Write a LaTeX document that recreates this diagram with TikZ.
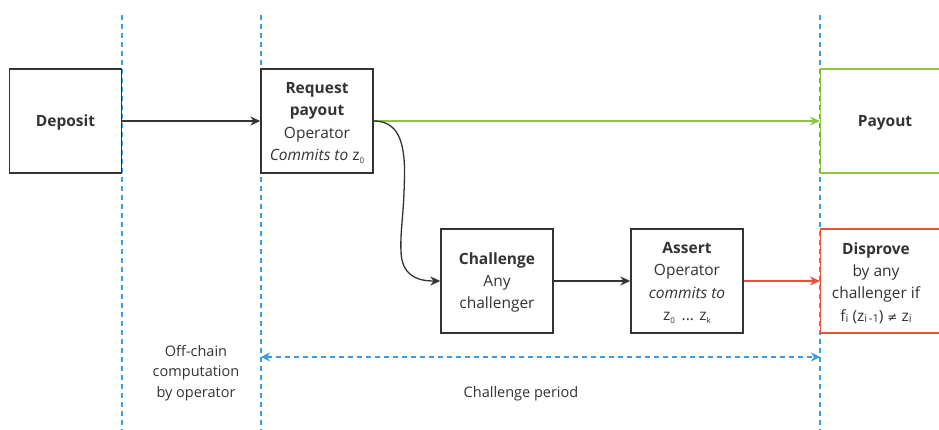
\documentclass[tikz,border=0pt]{standalone}
\usepackage{fontspec}
\setmainfont{Open Sans}
\newfontfamily\symfont{DejaVu Sans}
\usetikzlibrary{arrows.meta}
\definecolor{boxc}{HTML}{333333}
\definecolor{gr}{HTML}{8CC63F}
\definecolor{rd}{HTML}{E8503A}
\definecolor{bl}{HTML}{3A9BEA}
\newcommand{\sbs}[1]{\raisebox{-0.35ex}{\fontsize{8}{8}\selectfont #1}}
\newcommand{\sbl}[1]{\raisebox{-0.2ex}{\fontsize{11}{11}\selectfont #1}}
\tikzset{
  box/.style={draw=boxc, line width=1.4pt, fill=white, minimum width=112pt, minimum height=104pt, inner sep=0pt},
  txt/.style={align=center, text=boxc, font=\fontsize{15.5}{22.3}\selectfont},
  flow/.style={line width=1.3pt, -{Stealth[length=10pt,width=9pt]}},
  guide/.style={draw=bl, line width=1.2pt, dash pattern=on 5pt off 4pt}
}
\begin{document}
\begin{tikzpicture}[x=1pt,y=-1pt]
\useasboundingbox (0,0) rectangle (939,430);
\clip (0,0) rectangle (939,430);
\fill[white] (0,0) rectangle (939,430);
% guide lines
\coordinate (g1t) at (122,15); \coordinate (g1b) at (122,430);
\coordinate (g2t) at (261,15); \coordinate (g2b) at (261,430);
\coordinate (g3t) at (820,15); \coordinate (g3b) at (820,430);
\draw[guide] (g1t) -- (g1b);
\draw[guide] (g2t) -- (g2b);
\draw[guide] (g3t) -- (g3b);
% boxes
\node[box] (dep) at (65.5,121) {};
\node[txt] (dept) at (65.5,122.5) {\textbf{Deposit}};
\node[box] (req) at (317,121) {};
\node[txt] (reqt) at (317,123) {\textbf{Request}\\\textbf{payout}\\Operator\\\textit{Commits to} z\sbs{0}};
\node[box, draw=gr, minimum width=140pt, anchor=west] (pay) at (820,121) {};
\node[txt] (payt) at (885,122.5) {\textbf{Payout}};
\node[box] (cha) at (497,281) {};
\node[txt] (chat) at (497,282.5) {\textbf{Challenge}\\Any\\challenger};
\node[box] (ass) at (687,281) {};
\node[txt] (asst) at (687,283) {\textbf{Assert}\\Operator\\\textit{commits to}\\z\sbs{0} \,... z\sbs{k}};
\node[box, draw=rd, minimum width=140pt, anchor=west] (dis) at (820,281) {};
\node[txt] (dist) at (876,283) {\textbf{Disprove}\\by any\\challenger if\\f\sbl{i} (z\sbl{i\,-1}) {\symfont\fontsize{12}{12}\selectfont ≠} z\sbl{i}};
% connectors
\draw[flow, draw=boxc] (dep.east) -- (req.west);
\draw[flow, draw=gr] (req.east) -- (pay.west);
\draw[flow, draw=boxc] (req.east) .. controls (397,121) and (405,140) .. (404.5,175) .. controls (404,215) and (400,230) .. (401,252) .. controls (402,274) and (415,281) .. (cha.west);
\draw[flow, draw=boxc] (cha.east) -- (ass.west);
\draw[flow, draw=rd] (ass.east) -- (dis.west);
% challenge period
\coordinate (cpl) at (261,357); \coordinate (cpr) at (820,357);
\draw[guide, {Stealth[length=9pt,width=9pt]}-{Stealth[length=9pt,width=9pt]}] (cpl) -- (cpr);
\node[txt, font=\fontsize{14.5}{20.5}\selectfont] (off) at (196,373) {Off-chain\\computation\\by operator};
\node[txt, font=\fontsize{14.5}{20.5}\selectfont] (cp) at (521,394) {Challenge period};
\end{tikzpicture}
\end{document}
